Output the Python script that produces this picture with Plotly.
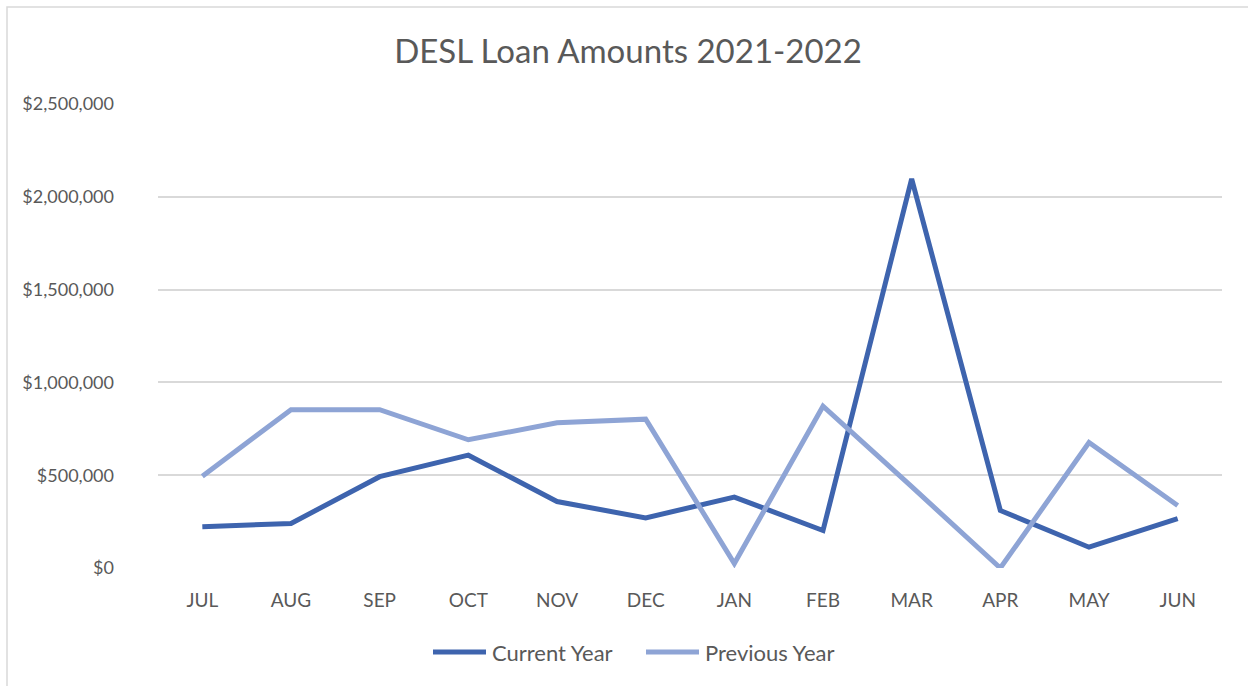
import plotly.graph_objects as go

months = ["JUL", "AUG", "SEP", "OCT", "NOV", "DEC", "JAN", "FEB", "MAR", "APR", "MAY", "JUN"]
current_year = [222000, 240000, 492000, 608000, 358000, 270000, 382000, 202000, 2097000, 310000, 112000, 266000]
previous_year = [494000, 853000, 853000, 691000, 782000, 802000, 24000, 872000, 438000, 0, 676000, 337000]
y_ticks = [0, 500000, 1000000, 1500000, 2000000, 2500000]
y_tick_labels = ["$0", "$500,000", "$1,000,000", "$1,500,000", "$2,000,000", "$2,500,000"]
series_names = ["Current Year", "Previous Year"]
series_colors = ["#3E64AE", "#8EA4D5"]

FONT = "Lato"
TXT = "#595959"

W, H = 1248, 686
L, R, T, B = 158, 26, 104, 118
pw, ph = W - L - R, H - T - B


def px_x(p):
    return (p - L) / pw


def px_y(p):
    return (H - B - p) / ph


fig = go.Figure()
for name, vals, col in zip(series_names, [current_year, previous_year], series_colors):
    fig.add_trace(go.Scatter(x=months, y=vals, name=name, mode="lines",
                             line=dict(color=col, width=5), showlegend=False))

# chart border
fig.add_shape(type="rect", xref="paper", yref="paper",
              x0=px_x(7), x1=px_x(1262), y0=px_y(700), y1=px_y(7),
              line=dict(color="#D9D9D9", width=1.5), fillcolor="rgba(0,0,0,0)", layer="below")

# manual legend
legend_items = [(433, 486, 490), (646, 699, 703)]
for (x0, x1, tx), name, col in zip(legend_items, series_names, series_colors):
    fig.add_shape(type="line", xref="paper", yref="paper",
                  x0=px_x(x0), x1=px_x(x1), y0=px_y(652), y1=px_y(652),
                  line=dict(color=col, width=5))
    fig.add_annotation(xref="paper", yref="paper", x=px_x(tx), y=px_y(652),
                       xanchor="left", yanchor="middle", showarrow=False, text=name,
                       font=dict(family=FONT, size=22, color=TXT))

fig.update_layout(
    width=W, height=H,
    margin=dict(l=L, r=R, t=T, b=B),
    paper_bgcolor="white", plot_bgcolor="white",
    title=dict(text="DESL Loan Amounts 2021-2022", x=px_x(628), xanchor="center", xref="paper",
               y=1 - 51 / H, yanchor="middle", yref="container",
               font=dict(family=FONT, size=33, color=TXT)),
    font=dict(family=FONT, color=TXT),
    showlegend=False,
    xaxis=dict(range=[-0.5, len(months) - 0.5], showgrid=False, showline=False, zeroline=False,
               ticks="", tickfont=dict(family=FONT, size=19, color=TXT), ticklabelstandoff=19),
    yaxis=dict(range=[0, 2500000], tickvals=y_ticks, ticktext=y_tick_labels,
               showgrid=True, gridcolor="#D9D9D9", gridwidth=1.5, zeroline=False,
               showline=False, ticks="", ticklabelstandoff=43,
               tickfont=dict(family=FONT, size=18, color=TXT)),
)

fig.write_html("out.html", config={"displayModeBar": False},
               post_script="document.body.style.margin='0px';")
